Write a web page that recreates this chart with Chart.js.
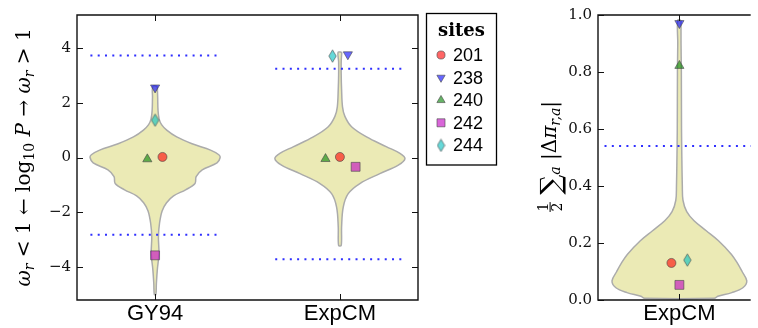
<!DOCTYPE html>
<html>
<head>
<meta charset="utf-8">
<script src="https://cdn.jsdelivr.net/npm/chart.js@4.4.1/dist/chart.umd.min.js"></script>
<style>
  html, body { margin: 0; padding: 0; background: #fff; }
  #wrap { position: relative; width: 758px; height: 328px; overflow: hidden; }
  #cLeft { position: absolute; left: 0; top: 0; }
  #cRight { position: absolute; left: 520px; top: 0; }
</style>
</head>
<body>
<div id="wrap">
  <canvas id="cLeft" width="520" height="328"></canvas>
  <canvas id="cRight" width="238" height="328"></canvas>
</div>
<script>
// ---- data ----
var sites = ['201', '238', '240', '242', '244'];
var models = ['GY94', 'ExpCM'];

// log10 P per site (order of sites) and x placement (0 = GY94, 1 = ExpCM)
var gy94Vals = [0.02, 2.55, -0.06, -3.57, 1.36];
var gy94X = [0.04, 0, -0.042, 0, 0];
var expcmVals = [0.02, 3.76, -0.05, -0.34, 3.70];
var expcmX = [1.0, 1.043, 0.922, 1.085, 0.96];

// half the summed abs. difference in preferences (right panel)
var diffVals = [0.130, 0.971, 0.822, 0.053, 0.140];
var diffX = [-0.049, 0, 0, 0, 0.049];

// significance cutoffs (dotted lines)
var gy94Cut = [3.72, -2.82];
var expcmCut = [3.24, -3.71];
var diffCut = [0.54];

// violin outlines: value and half width of the density
var gy94ViolinY = [2.6, 2.2, 1.7, 1.4, 1.2, 1.0, 0.75, 0.5, 0.27, 0.1, 0.0, -0.2, -0.45, -0.7, -0.95, -1.18, -1.4, -1.65, -1.95, -2.4, -2.9, -3.5, -4.1, -4.6, -5.0];
var gy94ViolinW = [0.012, 0.014, 0.016, 0.022, 0.035, 0.063, 0.117, 0.2, 0.3, 0.345, 0.352, 0.335, 0.255, 0.222, 0.216, 0.165, 0.1, 0.062, 0.038, 0.024, 0.018, 0.021, 0.012, 0.007, 0.004];
var expcmViolinY = [3.84, 3.5, 3.0, 2.5, 1.85, 1.5, 1.12, 0.75, 0.39, 0.15, -0.04, -0.28, -0.59, -0.95, -1.32, -1.81, -2.54, -3.21];
var expcmViolinW = [0.01, 0.007, 0.007, 0.009, 0.014, 0.027, 0.063, 0.144, 0.253, 0.325, 0.352, 0.316, 0.216, 0.108, 0.045, 0.018, 0.009, 0.007];
var diffViolinY = [0.982, 0.9, 0.8, 0.6, 0.5, 0.4, 0.35, 0.31, 0.278, 0.243, 0.208, 0.16, 0.126, 0.1, 0.067, 0.043, 0.026, 0.013, 0.006];
var diffViolinW = [0.01, 0.01, 0.012, 0.013, 0.015, 0.018, 0.022, 0.045, 0.09, 0.165, 0.24, 0.32, 0.36, 0.385, 0.414, 0.39, 0.322, 0.236, 0.215];

var logTicks = [-4, -2, 0, 2, 4];
var diffTicks = [0, 0.2, 0.4, 0.6, 0.8, 1.0];

// ---- styles ----
var siteColors = ['rgba(255,0,0,0.6)', 'rgba(0,0,255,0.6)', 'rgba(0,128,0,0.6)', 'rgba(191,0,191,0.6)', 'rgba(0,191,191,0.6)'];
var edgeColor = 'rgba(70,70,70,0.6)';
var violinFill = '#ebeab5';
var violinEdge = '#ababab';
var cutColor = '#2f2fff';

function makeDiamond(fill) {
    var c = document.createElement('canvas');
    c.width = 9; c.height = 14;
    var g = c.getContext('2d');
    g.beginPath();
    g.moveTo(4.5, 0.8); g.lineTo(8.2, 7); g.lineTo(4.5, 13.2); g.lineTo(0.8, 7);
    g.closePath();
    g.fillStyle = fill; g.fill();
    g.strokeStyle = edgeColor; g.lineWidth = 1; g.stroke();
    return c;
}

var siteMarkers = [
    {pointStyle: 'circle', radius: 4.5, rotation: 0},
    {pointStyle: 'triangle', radius: 5.3, rotation: 180},
    {pointStyle: 'triangle', radius: 5.3, rotation: 0},
    {pointStyle: 'rect', radius: 6.3, rotation: 0},
    {pointStyle: makeDiamond(siteColors[4]), radius: 6, rotation: 0}
];

function violinOutline(center, ys, ws) {
    var pts = [];
    for (var i = 0; i < ys.length; i++) pts.push({x: center + ws[i], y: ys[i]});
    for (var j = ys.length - 1; j >= 0; j--) pts.push({x: center - ws[j], y: ys[j]});
    pts.push(pts[0]);
    return pts;
}

function violinDataset(pts) {
    return {
        data: pts, order: 2, fill: 'shape', tension: 0.35,
        backgroundColor: violinFill, borderColor: violinEdge, borderWidth: 1.5,
        pointRadius: 0
    };
}

function cutDataset(center, value) {
    return {
        data: [{x: center - 0.35, y: value}, {x: center + 0.35, y: value}],
        order: 1, fill: false, borderColor: cutColor, borderWidth: 2,
        borderDash: [2, 5.3], pointRadius: 0
    };
}

function siteDatasets(xsList, valsList) {
    var out = [];
    for (var i = 0; i < sites.length; i++) {
        var pts = [];
        for (var k = 0; k < xsList.length; k++) pts.push({x: xsList[k][i], y: valsList[k][i]});
        out.push({
            label: sites[i], data: pts, order: 0, showLine: false,
            pointStyle: siteMarkers[i].pointStyle, pointRadius: siteMarkers[i].radius,
            pointRotation: siteMarkers[i].rotation,
            pointBackgroundColor: siteColors[i], pointBorderColor: edgeColor, pointBorderWidth: 1
        });
    }
    return out;
}

// ---- math style axis titles ----
function drawMath(ctx, parts, cx, cy, size) {
    var fam = '"DejaVu Serif"';
    function font(p) {
        var s = size * (p.sub ? 0.7 : (p.big ? 1.4 : 1));
        return (p.it ? 'italic ' : '') + s + 'px ' + fam;
    }
    ctx.save();
    var widths = parts.map(function (p) {
        if (p.frac) {
            ctx.font = (size * 0.7) + 'px ' + fam;
            return Math.max(ctx.measureText(p.frac[0]).width, ctx.measureText(p.frac[1]).width) + 3;
        }
        ctx.font = font(p);
        return ctx.measureText(p.t).width;
    });
    var total = widths.reduce(function (a, b) { return a + b; }, 0);
    ctx.translate(cx, cy);
    ctx.rotate(-Math.PI / 2);
    ctx.fillStyle = '#000';
    ctx.textBaseline = 'alphabetic';
    var x = -total / 2, base = size * 0.33;
    parts.forEach(function (p, i) {
        if (p.frac) {
            ctx.font = (size * 0.7) + 'px ' + fam;
            ctx.textAlign = 'center';
            var mid = x + widths[i] / 2;
            ctx.fillText(p.frac[0], mid, base - size * 0.4);
            ctx.fillText(p.frac[1], mid, base + size * 0.3);
            ctx.fillRect(x + 1, base - size * 0.3, widths[i] - 2, 1);
            ctx.textAlign = 'left';
        } else {
            ctx.font = font(p);
            var dy = p.sub ? size * 0.22 : (p.big ? size * 0.22 : 0);
            ctx.fillText(p.t, x, base + dy);
        }
        x += widths[i];
    });
    ctx.restore();
}

var leftTitle = [
    {t: 'ω', it: 1}, {t: 'r', it: 1, sub: 1}, {t: ' < 1 ← log'}, {t: '10', sub: 1},
    {t: ' '}, {t: 'P', it: 1}, {t: ' → '}, {t: 'ω', it: 1}, {t: 'r', it: 1, sub: 1}, {t: ' > 1'}
];
var rightTitle = [
    {frac: ['1', '2']}, {t: ' '}, {t: '∑', big: 1}, {t: 'a', it: 1, sub: 1}, {t: ' |Δ'},
    {t: 'π', it: 1}, {t: 'r,a', it: 1, sub: 1}, {t: '|'}
];

// frame with inward ticks, matplotlib style
var framePlugin = {
    id: 'frame',
    afterDatasetsDraw: function (chart, args, opts) {
        var a = chart.chartArea, ctx = chart.ctx, L = 6;
        var xs = chart.scales.x, ys = chart.scales.y;
        ctx.save();
        ctx.strokeStyle = '#111';
        ctx.lineWidth = 1;
        ctx.beginPath();
        xs.ticks.forEach(function (t) {
            var px = Math.round(xs.getPixelForValue(t.value)) + 0.5;
            ctx.moveTo(px, a.bottom); ctx.lineTo(px, a.bottom - L);
            ctx.moveTo(px, a.top); ctx.lineTo(px, a.top + L);
        });
        ys.ticks.forEach(function (t) {
            var py = Math.round(ys.getPixelForValue(t.value)) + 0.5;
            ctx.moveTo(a.left, py); ctx.lineTo(a.left + L, py);
            if (opts.right) { ctx.moveTo(a.right, py); ctx.lineTo(a.right - L, py); }
        });
        ctx.stroke();
        ctx.lineWidth = 1.4;
        ctx.beginPath();
        ctx.moveTo(a.right, a.top);
        ctx.lineTo(a.left, a.top);
        ctx.lineTo(a.left, a.bottom);
        ctx.lineTo(a.right, a.bottom);
        if (opts.right) ctx.closePath();
        ctx.stroke();
        ctx.restore();
    },
    afterDraw: function (chart, args, opts) {
        if (opts.title) drawMath(chart.ctx, opts.title, opts.tx, opts.ty, opts.tsize);
    }
};

var legendPlugin = {
    id: 'siteLegend',
    afterDraw: function (chart, args, opts) {
        if (!opts.show) return;
        var ctx = chart.ctx;
        ctx.save();
        ctx.strokeStyle = '#000';
        ctx.lineWidth = 1.3;
        ctx.strokeRect(426.5, 13.5, 70, 151.5);
        ctx.fillStyle = '#000';
        ctx.font = 'bold 18px "DejaVu Serif"';
        ctx.textAlign = 'center';
        ctx.textBaseline = 'alphabetic';
        ctx.fillText('sites', 461.5, 36);
        for (var i = 0; i < sites.length; i++) {
            var y = 55 + i * 22.6;
            ctx.fillStyle = siteColors[i];
            ctx.strokeStyle = edgeColor;
            ctx.lineWidth = 1;
            Chart.helpers.drawPoint(ctx, {
                pointStyle: siteMarkers[i].pointStyle, radius: siteMarkers[i].radius * 0.9,
                rotation: siteMarkers[i].rotation, borderWidth: 1
            }, 441, y);
            ctx.fillStyle = '#000';
            ctx.font = '18px "Liberation Sans"';
            ctx.textAlign = 'left';
            ctx.textBaseline = 'middle';
            ctx.fillText(sites[i], 453, y + 1);
        }
        ctx.restore();
    }
};

function baseOptions(xMin, xMax, xLabels, yMin, yMax, yTicks, yFmt, padRight, yWidth) {
    return {
        responsive: false, animation: false, events: [],
        layout: {padding: {left: 0, top: 15, right: padRight, bottom: 0}},
        plugins: {legend: {display: false}, tooltip: {enabled: false}},
        scales: {
            x: {
                type: 'linear', min: xMin, max: xMax,
                grid: {display: false, drawTicks: false}, border: {display: false},
                afterBuildTicks: function (s) { s.ticks = xLabels.map(function (l, i) { return {value: i}; }); },
                afterFit: function (s) { s.height = 28; },
                ticks: {
                    padding: 1, color: '#000', maxRotation: 0,
                    font: {family: '"Liberation Sans"', size: 22},
                    callback: function (v) { return xLabels[v]; }
                }
            },
            y: {
                type: 'linear', min: yMin, max: yMax,
                grid: {display: false, drawTicks: false}, border: {display: false},
                afterBuildTicks: function (s) { s.ticks = yTicks.map(function (v) { return {value: v}; }); },
                afterFit: function (s) { s.width = yWidth; },
                ticks: {
                    padding: 6, color: '#111',
                    font: {family: '"DejaVu Serif"', size: 15},
                    callback: yFmt
                }
            }
        }
    };
}

// ---- left panel: GY94 vs ExpCM ----
var leftData = [violinDataset(violinOutline(0, gy94ViolinY, gy94ViolinW)),
                violinDataset(violinOutline(1, expcmViolinY, expcmViolinW)),
                cutDataset(0, gy94Cut[0]), cutDataset(0, gy94Cut[1]),
                cutDataset(1, expcmCut[0]), cutDataset(1, expcmCut[1])]
    .concat(siteDatasets([gy94X, expcmX], [gy94Vals, expcmVals]));

var leftOpts = baseOptions(-0.4225, 1.4225, models, -5.2, 5.2, logTicks,
    function (v) { return v < 0 ? '\u2212' + Math.abs(v) : String(v); }, 102, 77);
leftOpts.plugins.frame = {right: true, title: leftTitle, tx: 23, ty: 157.5, tsize: 20};
leftOpts.plugins.siteLegend = {show: true};

new Chart(document.getElementById('cLeft'), {
    type: 'line',
    data: {datasets: leftData},
    options: leftOpts,
    plugins: [framePlugin, legendPlugin]
});

// ---- right panel: ExpCM preference differences ----
var rightData = [violinDataset(violinOutline(0, diffViolinY, diffViolinW)),
                 {data: [{x: -0.46, y: diffCut[0]}, {x: 0.6, y: diffCut[0]}], order: 1, fill: false,
                  borderColor: cutColor, borderWidth: 2, borderDash: [2, 5.3], pointRadius: 0}]
    .concat(siteDatasets([diffX], [diffVals]));

var rightOpts = baseOptions(-0.5, 0.438, ['ExpCM'], 0, 1, diffTicks,
    function (v) { return v.toFixed(1); }, 0, 78);
rightOpts.plugins.frame = {right: false, title: rightTitle, tx: 29, ty: 157, tsize: 20};

new Chart(document.getElementById('cRight'), {
    type: 'line',
    data: {datasets: rightData},
    options: rightOpts,
    plugins: [framePlugin]
});
</script>
</body>
</html>
